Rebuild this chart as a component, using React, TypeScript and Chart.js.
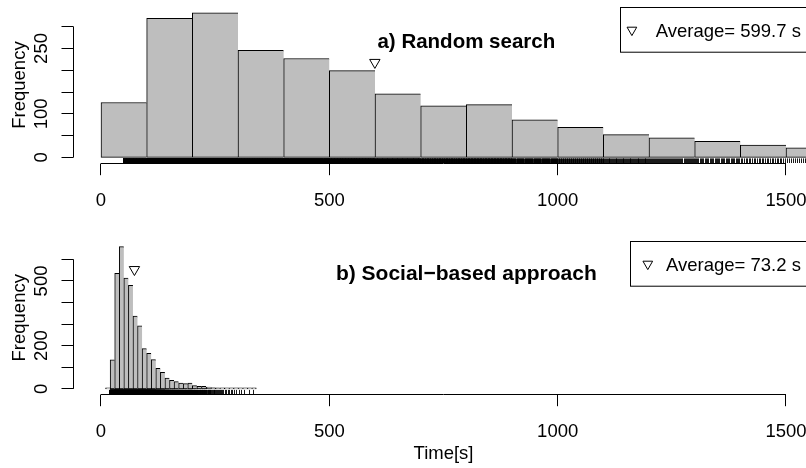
import React, { useEffect, useRef } from "react";
import { Chart, registerables } from "chart.js";

Chart.register(...registerables);

// ---------- data ----------
const xTicks = [0, 500, 1000, 1500];
const xRangeMin = -60;
const xRangeMax = 1560;
const xAxisTitle = "Time[s]";
const yAxisTitle = "Frequency";

// Panel a) Random search
const topBinStarts = [0, 100, 200, 300, 400, 500, 600, 700, 800, 900, 1000, 1100, 1200, 1300, 1400, 1500];
const topBinWidth = 100;
const topCounts = [126, 319, 332, 246, 227, 199, 146, 118, 121, 86, 69, 52, 45, 37, 28, 22];
const topDataMin = 48;
const topMean = 599.7;
const topMarkerY = 218;
const topYTicks = [0, 50, 100, 150, 200, 250, 300];
const topYLabels = [0, 100, 250];
const topTitle = "a) Random search";
const topTitleX = 800;
const topTitleY = 250;
const topLegendText = "Average= 599.7 s";

// Panel b) Social-based approach
const botBinStarts = [10, 20, 30, 40, 50, 60, 70, 80, 90, 100, 110, 120, 130, 140, 150, 160, 170, 180, 190, 200, 210, 220, 230, 240, 250, 260, 270, 280, 290, 300, 310, 320, 330];
const botBinWidth = 10;
const botCounts = [2, 134, 535, 659, 513, 480, 337, 292, 186, 165, 135, 95, 77, 50, 39, 33, 27, 24, 27, 15, 11, 11, 8, 6, 5, 4, 3, 3, 2, 2, 1, 1, 1];
const botDataMin = 17;
const botMean = 73.2;
const botMarkerY = 553;
const botYTicks = [0, 100, 200, 300, 400, 500, 600];
const botYLabels = [0, 200, 500];
const botTitle = "b) Social\u2212based approach";
const botTitleX = 800;
const botTitleY = 505;
const botLegendText = "Average= 73.2 s";

// ---------- layout ----------
const CANVAS_W = 830;
const CANVAS_H = 234;
const FONT = '"Liberation Sans", Arial, Helvetica, sans-serif';

type PanelCfg = {
  starts: number[];
  width: number;
  counts: number[];
  dataMin: number;
  mean: number;
  markerY: number;
  yTicks: number[];
  yLabels: number[];
  title: string;
  titleX: number;
  titleY: number;
  titleSize: number;
  legendText: string;
  legendSymOffset: number;
  showXTitle: boolean;
  padding: { left: number; right: number; top: number; bottom: number };
};

const topCfg: PanelCfg = {
  starts: topBinStarts,
  width: topBinWidth,
  counts: topCounts,
  dataMin: topDataMin,
  mean: topMean,
  markerY: topMarkerY,
  yTicks: topYTicks,
  yLabels: topYLabels,
  title: topTitle,
  titleX: topTitleX,
  titleY: topTitleY,
  titleSize: 20.5,
  legendText: topLegendText,
  legendSymOffset: 11.7,
  showXTitle: false,
  padding: { left: 73.6, right: CANVAS_W - 813.4, top: 7.0, bottom: CANVAS_H - 163.1 },
};

const botCfg: PanelCfg = {
  starts: botBinStarts,
  width: botBinWidth,
  counts: botCounts,
  dataMin: botDataMin,
  mean: botMean,
  markerY: botMarkerY,
  yTicks: botYTicks,
  yLabels: botYLabels,
  title: botTitle,
  titleX: botTitleX,
  titleY: botTitleY,
  titleSize: 21,
  legendText: botLegendText,
  legendSymOffset: 17.3,
  showXTitle: true,
  padding: { left: 73.6, right: CANVAS_W - 813.4, top: 3.9, bottom: CANVAS_H - 160.5 },
};

function crisp(v: number) {
  return Math.floor(v) + 0.5;
}

function downTriangle(ctx: CanvasRenderingContext2D, x: number, y: number, r: number) {
  const h = (Math.sqrt(3) / 2) * r;
  ctx.beginPath();
  ctx.moveTo(x - h, y - r / 2);
  ctx.lineTo(x + h, y - r / 2);
  ctx.lineTo(x, y + r);
  ctx.closePath();
  ctx.stroke();
}

function makePlugin(cfg: PanelCfg) {
  return {
    id: "rstyle",
    afterDatasetsDraw(chart: any) {
      const ctx: CanvasRenderingContext2D = chart.ctx;
      const xs = chart.scales.x;
      const area = chart.chartArea;
      const len = 0.03 * (area.bottom - area.top);
      ctx.save();
      ctx.beginPath();
      ctx.rect(area.left, area.top, area.right - area.left, area.bottom - area.top);
      ctx.clip();
      ctx.strokeStyle = "#000";
      ctx.lineWidth = 0.9;
      ctx.beginPath();
      cfg.counts.forEach((n, i) => {
        const s = Math.max(cfg.starts[i], cfg.dataMin);
        const e = cfg.starts[i] + cfg.width;
        for (let k = 0; k < n; k++) {
          const v = s + ((k + 0.5) * (e - s)) / n;
          const px = crisp(xs.getPixelForValue(v));
          ctx.moveTo(px, area.bottom);
          ctx.lineTo(px, area.bottom - len);
        }
      });
      ctx.stroke();
      ctx.restore();
    },
    afterDraw(chart: any) {
      const ctx: CanvasRenderingContext2D = chart.ctx;
      const xs = chart.scales.x;
      const ys = chart.scales.y;
      const area = chart.chartArea;
      ctx.save();
      ctx.strokeStyle = "#000";
      ctx.fillStyle = "#000";
      ctx.lineWidth = 1;

      // x axis
      const ay = crisp(area.bottom);
      ctx.beginPath();
      ctx.moveTo(xs.getPixelForValue(xTicks[0]), ay);
      ctx.lineTo(xs.getPixelForValue(xTicks[xTicks.length - 1]), ay);
      xTicks.forEach((t) => {
        const px = crisp(xs.getPixelForValue(t));
        ctx.moveTo(px, ay);
        ctx.lineTo(px, ay + 11.7);
      });
      ctx.stroke();
      ctx.font = `18.5px ${FONT}`;
      ctx.textAlign = "center";
      ctx.textBaseline = "alphabetic";
      xTicks.forEach((t) => {
        ctx.fillText(String(t), xs.getPixelForValue(t), area.bottom + 42.6);
      });
      if (cfg.showXTitle) {
        ctx.fillText(xAxisTitle, (area.left + area.right) / 2, area.bottom + 64.5);
      }

      // y axis
      const ax = crisp(area.left);
      ctx.beginPath();
      ctx.moveTo(ax, ys.getPixelForValue(cfg.yTicks[0]));
      ctx.lineTo(ax, ys.getPixelForValue(cfg.yTicks[cfg.yTicks.length - 1]));
      cfg.yTicks.forEach((t) => {
        const py = crisp(ys.getPixelForValue(t));
        ctx.moveTo(ax, py);
        ctx.lineTo(ax - 12, py);
      });
      ctx.stroke();
      cfg.yLabels.forEach((t) => {
        ctx.save();
        ctx.translate(46.7, ys.getPixelForValue(t));
        ctx.rotate(-Math.PI / 2);
        ctx.fillText(String(t), 0, 0);
        ctx.restore();
      });
      ctx.save();
      ctx.translate(24.5, (area.top + area.bottom) / 2);
      ctx.rotate(-Math.PI / 2);
      ctx.fillText(yAxisTitle, 0, 0);
      ctx.restore();

      // title
      ctx.font = `bold ${cfg.titleSize}px ${FONT}`;
      ctx.fillText(cfg.title, xs.getPixelForValue(cfg.titleX), ys.getPixelForValue(cfg.titleY));

      // legend
      ctx.font = `18.5px ${FONT}`;
      const tw = ctx.measureText(cfg.legendText).width;
      const boxLeft = area.right - tw - 48;
      ctx.fillStyle = "#fff";
      ctx.fillRect(boxLeft, area.top, area.right - boxLeft, 44.7);
      ctx.fillStyle = "#000";
      ctx.strokeRect(crisp(boxLeft), crisp(area.top), area.right - boxLeft, 44.7);
      ctx.textAlign = "left";
      ctx.fillText(cfg.legendText, boxLeft + 35.5, area.top + 30);
      downTriangle(ctx, boxLeft + cfg.legendSymOffset, area.top + 23, 5.6);
      ctx.restore();
    },
  };
}

function Panel({ cfg, top }: { cfg: PanelCfg; top: number }) {
  const ref = useRef<HTMLCanvasElement>(null);
  useEffect(() => {
    const canvas = ref.current!;
    const maxC = Math.max(...cfg.counts);
    const n = cfg.counts.length;
    const chart = new Chart(canvas, {
      type: "bar",
      data: {
        datasets: [
          {
            type: "bar",
            data: cfg.counts.map((c, i) => ({ x: cfg.starts[i] + cfg.width / 2, y: c })),
            backgroundColor: "#BEBEBE",
            borderColor: "#000",
            borderWidth: (c: any) => ({ top: 1, left: 1, bottom: 1, right: c.dataIndex === n - 1 ? 1 : 0 }),
            borderSkipped: false,
            barPercentage: 1,
            categoryPercentage: 1,
            minBarLength: 1,
          } as any,
          {
            type: "scatter",
            data: [{ x: cfg.mean, y: cfg.markerY }],
            pointStyle: "triangle",
            pointRotation: 180,
            pointRadius: 6,
            pointBackgroundColor: "rgba(0,0,0,0)",
            pointBorderColor: "#000",
            pointBorderWidth: 1,
          } as any,
        ],
      },
      options: {
        responsive: false,
        animation: false,
        events: [],
        layout: { padding: cfg.padding },
        plugins: {
          legend: { display: false },
          tooltip: { enabled: false },
          title: { display: false },
        },
        scales: {
          x: { type: "linear", min: xRangeMin, max: xRangeMax, display: false, offset: false },
          y: { type: "linear", min: -0.04 * maxC, max: 1.04 * maxC, display: false },
        },
      } as any,
      plugins: [makePlugin(cfg)],
    });
    return () => chart.destroy();
  }, []);
  return (
    <canvas
      ref={ref}
      width={CANVAS_W}
      height={CANVAS_H}
      style={{ position: "absolute", left: 0, top, width: CANVAS_W, height: CANVAS_H }}
    />
  );
}

export default function App() {
  return (
    <div
      style={{
        position: "fixed",
        left: 0,
        top: 0,
        width: CANVAS_W,
        height: 468,
        overflow: "hidden",
        background: "#fff",
      }}
    >
      <Panel cfg={topCfg} top={0} />
      <Panel cfg={botCfg} top={234} />
    </div>
  );
}
